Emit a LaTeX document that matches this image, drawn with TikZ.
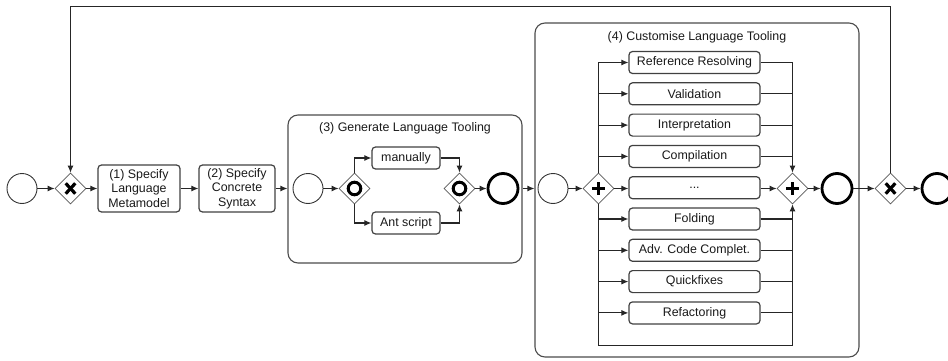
\documentclass[tikz,border=0pt]{standalone}
\usepackage{fontspec}
\setmainfont{Liberation Sans}
\usetikzlibrary{shapes.geometric,arrows.meta}
\tikzset{
  txt/.style={font=\fontsize{12.4}{14.5}\selectfont, text=black!90},
  arr/.style={-{Latex[length=7pt,width=6pt]}, line width=1.1pt, black!85},
  ln/.style={line width=1.1pt, black!85},
  trunk/.style={-{Latex[length=7pt,width=6pt]}, line width=0.9pt, black!85},
  task/.style={txt, draw=black!75, line width=1.2pt, rounded corners=3.5pt, align=center, inner sep=0pt},
  btask/.style={task, minimum width=131pt, minimum height=22pt},
  grp/.style={draw=black!70, line width=1.1pt, rounded corners=10pt, inner sep=0pt},
  startev/.style={circle, draw=black!80, line width=0.9pt, minimum size=30pt, inner sep=0pt},
  endev/.style={circle, draw=black, line width=2.8pt, minimum size=30pt, inner sep=0pt},
  gw/.style={diamond, draw=black!65, line width=0.8pt, minimum width=31pt, minimum height=31pt, inner sep=0pt},
  xgw/.style={gw, path picture={
     \draw[line width=3.2pt, black] ([shift={(-4.8,-5.2)}]path picture bounding box.center) -- ([shift={(4.8,5.2)}]path picture bounding box.center);
     \draw[line width=3.2pt, black] ([shift={(-4.8,5.2)}]path picture bounding box.center) -- ([shift={(4.8,-5.2)}]path picture bounding box.center);}},
  pgw/.style={gw, path picture={
     \draw[line width=3.6pt, black] ([shift={(-6.5,0)}]path picture bounding box.center) -- ([shift={(6.5,0)}]path picture bounding box.center);
     \draw[line width=3.6pt, black] ([shift={(0,-6.5)}]path picture bounding box.center) -- ([shift={(0,6.5)}]path picture bounding box.center);}},
  ogw/.style={gw, path picture={
     \draw[line width=3pt, black] (path picture bounding box.center) circle (6.3);}}
}
\begin{document}
\begin{tikzpicture}[x=1pt,y=-1pt]
\useasboundingbox (0,0) rectangle (948,361);
% groups
\node[grp, minimum width=234pt, minimum height=148pt] (grp3) at (405,189) {};
\node[txt] (grp3t) at (405,128) {(3) Generate Language Tooling};
\node[grp, minimum width=324pt, minimum height=334pt] (grp4) at (697,190) {};
\node[txt] (grp4t) at (697,37) {(4) Customise Language Tooling};
% main line
\node[startev] (s0) at (22,188.5) {};
\node[xgw] (g0) at (70.5,188.5) {};
\node[task, minimum width=82pt, minimum height=47pt] (t1) at (139,188.5) {(1) Specify\\Language\\Metamodel};
\node[task, minimum width=76pt, minimum height=47pt] (t2) at (237,188.5) {(2) Specify\\Concrete\\Syntax};
% group 3
\node[startev] (s3) at (308,188.5) {};
\node[ogw] (g3a) at (354.5,188.5) {};
\node[task, minimum width=68pt, minimum height=22pt] (man) at (406,158) {manually};
\node[task, minimum width=68pt, minimum height=22pt] (ant) at (406,223) {Ant script};
\node[ogw] (g3b) at (459.5,188.5) {};
\node[endev] (e3) at (503,188.5) {};
% group 4
\node[startev] (s4) at (553,188.5) {};
\node[pgw] (g4a) at (598.5,188.5) {};
\node[btask] (b1) at (694.5,62.5) {Reference Resolving};
\node[btask] (b2) at (694.5,93.8) {Validation};
\node[btask] (b3) at (694.5,125.1) {Interpretation};
\node[btask] (b4) at (694.5,156.4) {Compilation};
\node[btask] (b5) at (694.5,187.7) {...};
\node[btask] (b6) at (694.5,219) {Folding};
\node[btask] (b7) at (694.5,250.3) {Adv. Code Complet.};
\node[btask] (b8) at (694.5,281.6) {Quickfixes};
\node[btask] (b9) at (694.5,312.9) {Refactoring};
\node[pgw] (g4b) at (792.5,188.5) {};
\node[endev] (e4) at (837,188.5) {};
\node[xgw] (g5) at (890.5,188.5) {};
\node[endev] (e5) at (937,188.5) {};
\coordinate (top) at (70.5,6.5);
\coordinate (bl) at (598.5,345.5);
\coordinate (br) at (792.5,345.5);
% connectors
\draw[arr] (s0) -- (g0);
\draw[arr] (g0) -- (g0 -| t1.west);
\draw[arr] (t1.east |- t2) -- (t2.west);
\draw[arr] (t2.east) -- (t2.east -| grp3.west);
\draw[arr] (s3) -- (g3a);
\draw[arr] (g3a.north) |- (man.west);
\draw[arr] (g3a.south) |- (ant.west);
\draw[arr] (man.east) -| (g3b.north);
\draw[arr] (ant.east) -| (g3b.south);
\draw[arr] (g3b) -- (e3);
\draw[arr] (grp3.east |- g3b) -- (grp4.west |- s4);
\draw[arr] (s4) -- (g4a);
% upper branches
\draw[trunk] (g4a.north) |- (b1.west);
\draw[trunk] (b1.east) -| (g4b.north);
\foreach \n in {b2,b3,b4}{
  \draw[arr] (g4a.north |- \n.west) -- (\n.west);
  \draw[ln] (\n.east) -- (\n.east -| g4b.north);
}
% lower branches
\draw[trunk] (g4a.south) -- (bl) -- (br) -- (g4b.south);
\foreach \n in {b6,b7,b8,b9}{
  \draw[arr] (g4a.south |- \n.west) -- (\n.west);
  \draw[ln] (\n.east) -- (\n.east -| g4b.south);
}
\draw[arr] (g4a) -- (b5.west |- g4a);
\draw[arr] (b5.east |- g4b) -- (g4b);
\draw[arr] (g4b) -- (e4);
\draw[arr] (e4) -- (g5);
\draw[arr] (g5) -- (e5);
\draw[trunk] (g5.north) |- (top) -- (g0.north);
\end{tikzpicture}
\end{document}
